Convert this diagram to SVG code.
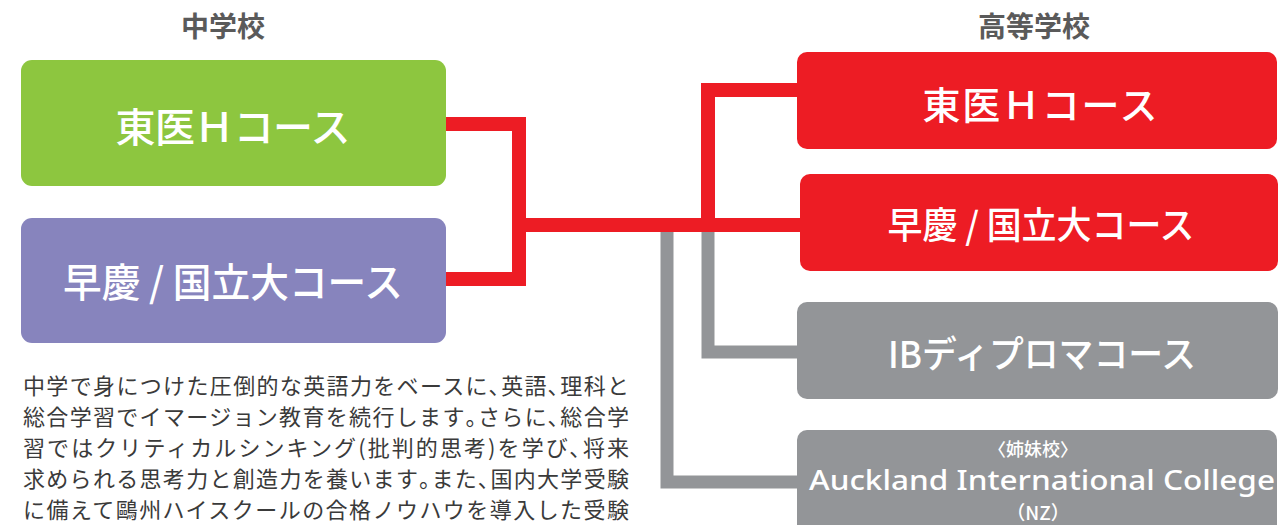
<svg xmlns="http://www.w3.org/2000/svg" width="1278" height="525" viewBox="0 0 1278 525">
<style>
.t{font-family:"Noto Sans CJK JP","Noto Sans",sans-serif;}
.h{font-size:28px;fill:#5a5a5a;font-weight:700;text-anchor:middle;}
.b{fill:#ffffff;text-anchor:middle;dominant-baseline:central;font-weight:500;}
.p{font-size:22px;fill:#3a3a3a;}
.red{fill:#ed1c24;}
.gray{fill:#939598;}
.lr{fill:none;stroke:#ed1c24;stroke-width:14;}
.lg{fill:none;stroke:#939598;stroke-width:13;}
</style>
<rect width="1278" height="525" fill="#ffffff"/>
<text class="t h" x="223" y="37">中学校</text>
<text class="t h" x="1034" y="37">高等学校</text>
<g id="connectors">
<path class="lg" d="M667 225 V482 H800"/>
<path class="lg" d="M708 225 V352 H800"/>
<path class="lr" d="M440 124 H519 V279 H440"/>
<path class="lr" d="M519 225 H805"/>
<path class="lr" d="M708 225 V90 H800"/>
</g>
<g id="ms-toi">
<rect x="21" y="60" width="425" height="126" rx="11" fill="#8dc63f"/>
<text class="t b" x="233" y="125" font-size="40" textLength="235" lengthAdjust="spacing">東医Ｈコース</text>
</g>
<g id="ms-sokei">
<rect x="21" y="218" width="425" height="125" rx="11" fill="#8784bd"/>
<text class="t b" x="233" y="280" font-size="40" textLength="340" lengthAdjust="spacingAndGlyphs">早慶 / 国立大コース</text>
</g>
<g id="hs-toi">
<rect class="red" x="797" y="52" width="480" height="97" rx="10"/>
<text class="t b" x="1040" y="102" font-size="38" textLength="235" lengthAdjust="spacing">東医Ｈコース</text>
</g>
<g id="hs-sokei">
<rect class="red" x="800" y="174" width="478" height="97" rx="10"/>
<text class="t b" x="1041" y="223" font-size="37" textLength="307" lengthAdjust="spacingAndGlyphs">早慶 / 国立大コース</text>
</g>
<g id="hs-ib">
<rect class="gray" x="797" y="302" width="481" height="97" rx="10"/>
<text class="t b" x="1042" y="352" font-size="37" textLength="308" lengthAdjust="spacingAndGlyphs">IBディプロマコース</text>
</g>
<g id="hs-aic">
<rect class="gray" x="797" y="430" width="480" height="110" rx="10"/>
<text class="t b" x="1033" y="448" font-size="18">〈姉妹校〉</text>
<text x="1042" y="490" font-size="27" fill="#ffffff" text-anchor="middle" textLength="466" lengthAdjust="spacingAndGlyphs" style="font-family:'Noto Sans',sans-serif;font-weight:500">Auckland International College</text>
<text class="t b" x="1038" y="511" font-size="19">（NZ）</text>
</g>
<g id="description">
<text class="t p"><tspan x="23" y="394" textLength="606" lengthAdjust="spacing">中学で身につけた圧倒的な英語力をベースに､英語､理科と</tspan><tspan x="23" y="425" textLength="606" lengthAdjust="spacing">総合学習でイマージョン教育を続行します｡さらに､総合学</tspan><tspan x="23" y="456" textLength="606" lengthAdjust="spacing">習ではクリティカルシンキング(批判的思考)を学び､将来</tspan><tspan x="23" y="487" textLength="606" lengthAdjust="spacing">求められる思考力と創造力を養います｡また､国内大学受験</tspan><tspan x="23" y="518" textLength="606" lengthAdjust="spacing">に備えて鷗州ハイスクールの合格ノウハウを導入した受験</tspan></text>
</g>
</svg>
